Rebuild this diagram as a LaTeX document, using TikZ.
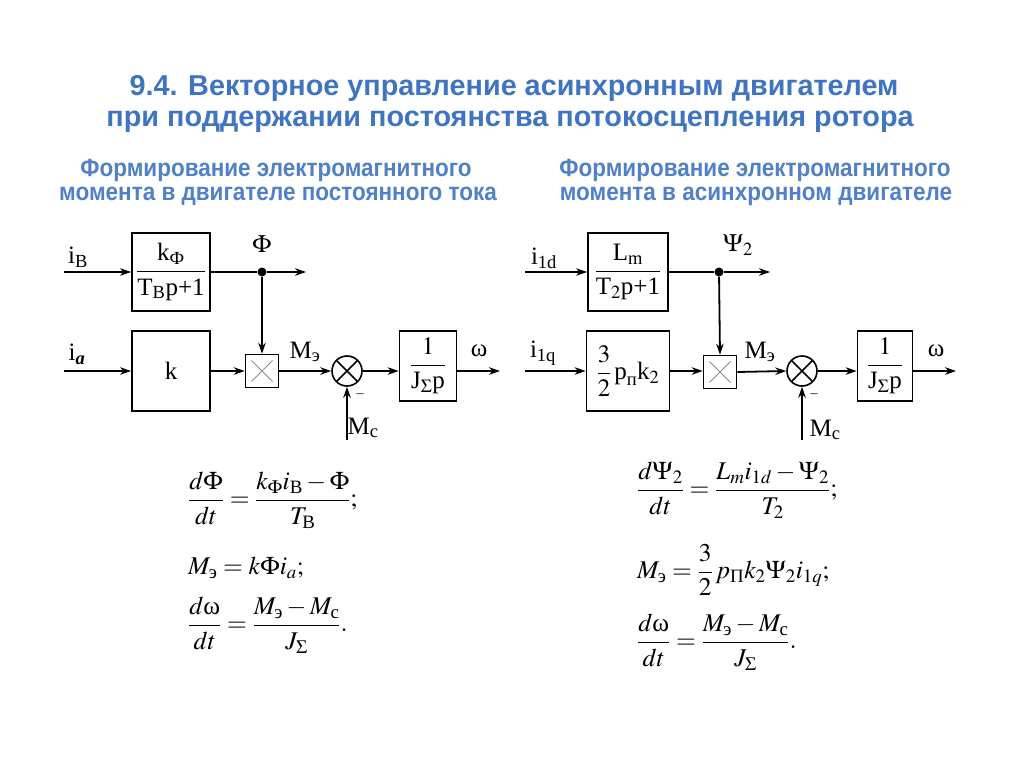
\documentclass[tikz,border=0pt]{standalone}
\usepackage{amsmath}
\usepackage{mathptmx}
\usepackage{fontspec}
\setmainfont{Liberation Serif}
\newfontfamily\headfont{Liberation Sans}
\newfontfamily\subfont[FakeStretch=0.9]{Liberation Sans}
\usetikzlibrary{positioning,arrows.meta,calc}
\definecolor{headblue}{HTML}{3F74C2}
\definecolor{subblue}{HTML}{4F80C8}
\tikzset{
  ln/.style={line width=1.8pt},
  arr/.style={line width=1.8pt, -{Stealth[length=11pt,width=7.5pt]}},
  blk/.style={draw, line width=1.8pt, inner sep=0pt, font=\fontsize{25}{29}\selectfont},
  mulbox/.style={draw, line width=1.6pt, minimum size=33pt, inner sep=0pt,
    path picture={\draw[black!45, line width=0.9pt]
      ([shift={(6pt,6pt)}]path picture bounding box.south west) -- ([shift={(-6pt,-6pt)}]path picture bounding box.north east)
      ([shift={(6pt,-6pt)}]path picture bounding box.north west) -- ([shift={(-6pt,6pt)}]path picture bounding box.south east);}},
  sumcirc/.style={draw, circle, line width=1.6pt, minimum size=30pt, inner sep=0pt,
    path picture={\draw[line width=1.6pt]
      (path picture bounding box.south west) -- (path picture bounding box.north east)
      (path picture bounding box.north west) -- (path picture bounding box.south east);}},
  jdot/.style={circle, fill, inner sep=0pt, minimum size=9pt},
  lbl/.style={inner sep=1pt, font=\fontsize{25}{29}\selectfont},
  eqn/.style={anchor=west, inner sep=0pt, font=\fontsize{25.5}{30}\selectfont},
  ttl/.style={font=\headfont\bfseries\fontsize{28.8}{32}\selectfont, text=headblue},
  subttl/.style={font=\subfont\bfseries\fontsize{25}{28}\selectfont, text=subblue}
}

\begin{document}
\begin{tikzpicture}[x=1pt,y=-1pt]
\useasboundingbox (0,0) rectangle (1024,767);
\node[ttl] (t1) at (514,88) {9.4. Векторное управление асинхронным двигателем};
\node[ttl] (t2) at (510,122) {при поддержании постоянства потокосцепления ротора};
\node[subttl] (s1) at (276,170) {Формирование электромагнитного};
\node[subttl] (s2) at (278,196) {момента в двигателе постоянного тока};
\node[subttl] (s3) at (755,170) {Формирование электромагнитного};
\node[subttl] (s4) at (756,196) {момента в асинхронном двигателе};

\node[blk, minimum width=78pt, minimum height=78pt] (fluxL) at (171,272) {$\dfrac{\text{k}_{\text{Ф}}}{\text{T}_{\text{В}}\text{p+1}}$};
\node[blk, minimum width=78pt, minimum height=80pt] (gainL) at (171,371) {k};
\node[mulbox] (mulL) at (262,371) {};
\node[sumcirc] (sumL) at (347,371) {};
\node[blk, minimum width=57pt, minimum height=70pt] (inertL) at (428,366) {$\dfrac{1}{\text{J}_{\Sigma}\text{p}}$};
\node[jdot] (dotL) at (262,272) {};
\coordinate (ivin) at (64,272);
\coordinate (iain) at (64,371);
\coordinate (phiout) at (306,272);
\coordinate (wL) at (500,371);
\coordinate (mcL) at (347,440);
\draw[arr] (ivin) -- (fluxL.west);
\draw[ln] (fluxL.east) -- (dotL);
\draw[arr] (dotL) -- (phiout);
\draw[arr] (dotL) -- (mulL.north);
\draw[arr] (iain) -- (gainL.west);
\draw[arr] (gainL.east) -- (mulL.west);
\draw[arr] (mulL.east) -- (sumL.west);
\draw[arr] (sumL.east) -- (sumL.east -| inertL.west);
\draw[arr] (inertL.east |- wL) -- (wL);
\draw[arr] (mcL) -- (sumL.south);
\node[lbl] (ivlbl) at (78,257) {$\text{i}_{\text{В}}$};
\node[lbl] (ialbl) at (77,354) {$\text{i}_{\text{\textbf{\textit{a}}}}$};
\node[lbl] (philbl) at (262,244) {$\Phi$};
\node[lbl] (melblL) at (305,352) {$\text{M}_{\text{э}}$};
\node[lbl] (wlblL) at (479,351) {ω};
\node[lbl, font=\fontsize{14}{16}\selectfont] (minusL) at (360,396) {--};
\node[lbl] (mclblL) at (363,428) {$\text{M}_{\text{с}}$};

\node[blk, minimum width=80pt, minimum height=78pt] (fluxR) at (628,272) {$\dfrac{\text{L}_{\text{m}}}{\text{T}_2\text{p+1}}$};
\node[blk, minimum width=83pt, minimum height=80pt] (gainR) at (628,371) {$\dfrac{3}{2}\,\text{p}_{\text{п}}\text{k}_2$};
\node[mulbox] (mulR) at (720,372) {};
\node[sumcirc] (sumR) at (802,371) {};
\node[blk, minimum width=55pt, minimum height=70pt] (inertR) at (885,366) {$\dfrac{1}{\text{J}_{\Sigma}\text{p}}$};
\node[jdot] (dotR) at (719,272) {};
\coordinate (idin) at (525,272);
\coordinate (iqin) at (525,371);
\coordinate (psiout) at (770,272);
\coordinate (wR) at (956,371);
\coordinate (mcR) at (802,440);
\draw[arr] (idin) -- (fluxR.west);
\draw[ln] (fluxR.east) -- (dotR);
\draw[arr] (dotR) -- (psiout);
\draw[arr] (dotR) -- (mulR.north);
\draw[arr] (iqin) -- (gainR.west);
\draw[arr] (gainR.east) -- (mulR.west |- gainR.east);
\draw[arr] (mulR.east) -- (sumR.west);
\draw[arr] (sumR.east) -- (sumR.east -| inertR.west);
\draw[arr] (inertR.east |- wR) -- (wR);
\draw[arr] (mcR) -- (sumR.south);
\node[lbl] (idlbl) at (544,258) {$\text{i}_{\text{1d}}$};
\node[lbl] (iqlbl) at (543,353) {$\text{i}_{\text{1q}}$};
\node[lbl] (psilbl) at (738,245) {$\Psi_2$};
\node[lbl] (melblR) at (760,352) {$\text{M}_{\text{э}}$};
\node[lbl] (wlblR) at (936,351) {ω};
\node[lbl, font=\fontsize{14}{16}\selectfont] (minusR) at (814,396) {--};
\node[lbl] (mclblR) at (825,430) {$\text{M}_{\text{с}}$};

\node[eqn] (eqL1) at (188,500) {$\dfrac{d\Phi}{dt}=\dfrac{k_{\Phi}i_{\text{В}}-\Phi}{T_{\text{В}}};$};
\node[eqn] (eqL2) at (188,568) {$M_{\text{э}}=k\Phi i_a;$};
\node[eqn] (eqL3) at (188,625) {$\dfrac{d\text{ω}}{dt}=\dfrac{M_{\text{э}}-M_{\text{с}}}{J_{\Sigma}}.$};
\node[eqn] (eqR1) at (637,490) {$\dfrac{d\Psi_2}{dt}=\dfrac{L_m i_{1d}-\Psi_2}{T_2};$};
\node[eqn] (eqR2) at (637,570) {$M_{\text{э}}=\dfrac{3}{2}\,p_{\text{П}}k_2\Psi_2 i_{1q};$};
\node[eqn] (eqR3) at (637,642) {$\dfrac{d\text{ω}}{dt}=\dfrac{M_{\text{э}}-M_{\text{с}}}{J_{\Sigma}}.$};
\end{tikzpicture}
\end{document}
